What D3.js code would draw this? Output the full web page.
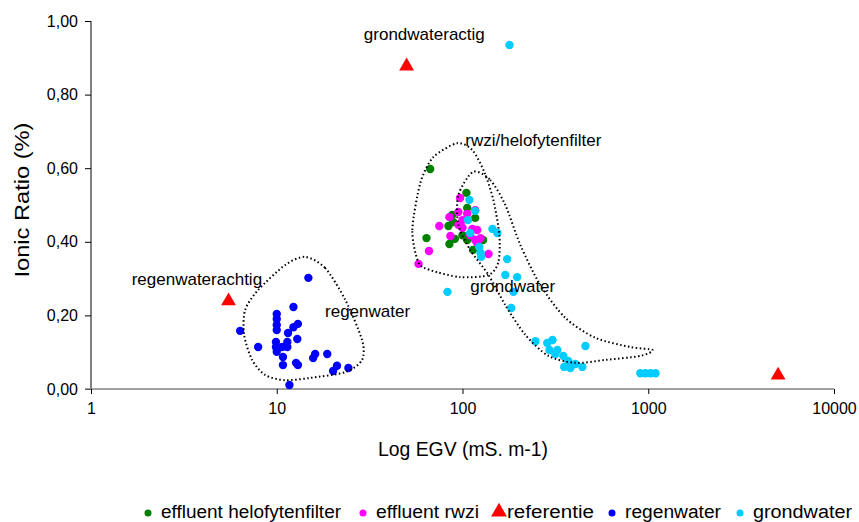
<!DOCTYPE html>
<html>
<head>
<meta charset="utf-8">
<script src="https://cdn.jsdelivr.net/npm/d3@7"></script>
<style>
  body { margin: 0; background: #fff; }
  svg text { font-family: "Liberation Sans", Arial, sans-serif; fill: #000; }
</style>
</head>
<body>
<svg id="chart" width="859" height="522" font-family="Liberation Sans, Arial, sans-serif"></svg>
<script>
// series values: [EGV, ionic ratio]
var helofytenfilter = [[67,0.598],[105,0.533],[106,0.492],[88,0.473],[117,0.465],[84,0.443],[89,0.454],
  [64,0.410],[85,0.394],[91,0.408],[106,0.405],[129,0.405],[114,0.378],[100,0.418]];
var rwzi = [[97,0.519],[117,0.486],[95,0.481],[85,0.467],[106,0.476],[100,0.459],[75,0.443],[95,0.446],
  [100,0.438],[113,0.435],[120,0.432],[86,0.416],[110,0.418],[117,0.405],[125,0.410],[120,0.397],
  [138,0.367],[66,0.375],[58,0.340]];
var referentie = [[5.5,0.242],[50,0.88],[5000,0.04]];
var regenwater = [[14.8,0.302],[12.3,0.223],[10,0.204],[10,0.190],[10,0.174],[10,0.160],[13,0.177],
  [12.3,0.168],[11.5,0.152],[12.9,0.136],[6.35,0.158],[7.94,0.114],[9.9,0.128],[9.9,0.114],[10,0.101],
  [10.7,0.114],[11.4,0.128],[11.4,0.114],[10.8,0.087],[10.8,0.065],[12.7,0.071],[13,0.065],[16.1,0.095],
  [15.7,0.084],[18.7,0.095],[21.1,0.063],[20.1,0.049],[24.3,0.057],[11.7,0.011]];
var grondwater = [[179,0.935],[109,0.514],[117,0.484],[107,0.459],[110,0.424],[145,0.435],[154,0.424],
  [123,0.386],[125,0.370],[126,0.359],[174,0.353],[170,0.310],[197,0.304],[188,0.264],[183,0.220],
  [83,0.264],[247,0.130],[286,0.125],[305,0.133],[294,0.106],[324,0.106],[316,0.095],[349,0.090],
  [371,0.076],[353,0.060],[381,0.057],[405,0.068],[442,0.060],[459,0.117],
  [907,0.043],[966,0.043],[1028,0.043],[1094,0.043]];

// dotted group outlines, in data units
var outlineRegen = [[14.2,0.359],[18.2,0.329],[23.4,0.242],[28.8,0.133],[28.8,0.079],[23.4,0.046],
  [15.1,0.030],[11.1,0.024],[8.66,0.038],[7.37,0.079],[6.67,0.147],[6.76,0.215],[7.94,0.269],[11.1,0.337]];
var outlineRwzi = [[57.8,0.345],[53.7,0.432],[59.3,0.560],[69.6,0.630],[93.7,0.668],[113,0.649],
  [131,0.590],[146.5,0.514],[158,0.418],[156,0.345],[138,0.310],[97.3,0.304],[67.1,0.323]];
var outlineGrond = [[114,0.590],[141,0.568],[170,0.500],[205,0.391],[262,0.283],[358,0.193],[520,0.139],
  [802,0.114],[1055,0.106],[908,0.090],[588,0.079],[405,0.071],[290,0.090],[218,0.147],[170,0.228],
  [138,0.310],[110,0.378],[95,0.446],[95,0.527]];

var annotations = [
  {text: "grondwateractig", x: 62.3, y: 0.948, anchor: "middle"},
  {text: "rwzi/helofytenfilter", x: 103.5, y: 0.660, anchor: "start"},
  {text: "regenwaterachtig", x: 8.34, y: 0.283, anchor: "end"},
  {text: "regenwater", x: 18.2, y: 0.196, anchor: "start"},
  {text: "grondwater", x: 110, y: 0.264, anchor: "start"}
];

var xTicks = [1, 10, 100, 1000, 10000];
var yTicks = [0, 0.2, 0.4, 0.6, 0.8, 1.0];

var series = [
  {name: "effluent helofytenfilter", data: helofytenfilter, color: "#008000", shape: "dot"},
  {name: "effluent rwzi", data: rwzi, color: "#FF00FF", shape: "dot"},
  {name: "referentie", data: referentie, color: "#FF0000", shape: "tri"},
  {name: "regenwater", data: regenwater, color: "#0000FF", shape: "dot"},
  {name: "grondwater", data: grondwater, color: "#00CCFF", shape: "dot"}
];

var svg = d3.select("#chart");
var x = d3.scaleLog().domain([1, 10000]).range([91, 834]);
var y = d3.scaleLinear().domain([0, 1]).range([389, 21]);

// y axis
var yAxis = svg.append("g").attr("transform", "translate(91,0)")
  .call(d3.axisLeft(y).tickValues(yTicks).tickSize(6).tickPadding(7)
    .tickFormat(d => d3.format(".2f")(d).replace(".", ",")));
yAxis.select(".domain").attr("d", "M0," + y(1) + "V" + y(0)).attr("stroke", "#000");
yAxis.selectAll("text").style("font-size", "16px");

// x axis
var xAxis = svg.append("g").attr("transform", "translate(0,389)")
  .call(d3.axisBottom(x).tickValues(xTicks).tickSize(5).tickPadding(9).tickFormat(d3.format("d")));
xAxis.select(".domain").attr("d", "M85,0H834").attr("stroke", "#808080").attr("stroke-width", 1.5);
xAxis.selectAll(".tick line").attr("stroke", "#000");
xAxis.selectAll("text").style("font-size", "16px");

svg.append("text").attr("x", 463).attr("y", 456).attr("text-anchor", "middle")
  .attr("textLength", 170).attr("lengthAdjust", "spacingAndGlyphs")
  .style("font-size", "20px").text("Log EGV (mS. m-1)");
svg.append("text").attr("transform", "translate(29,200) rotate(-90)").attr("text-anchor", "middle")
  .attr("textLength", 155).attr("lengthAdjust", "spacingAndGlyphs")
  .style("font-size", "20px").text("Ionic Ratio (%)");

var triangle = d3.symbol().type(d3.symbolTriangle).size(95);

series.forEach(function (s) {
  var g = svg.append("g");
  if (s.shape === "dot") {
    g.selectAll("circle").data(s.data).enter().append("circle")
      .attr("cx", d => x(d[0])).attr("cy", d => y(d[1])).attr("r", 4.2)
      .attr("fill", s.color);
  } else {
    g.selectAll("path").data(s.data).enter().append("path")
      .attr("d", triangle)
      .attr("transform", d => "translate(" + x(d[0]) + "," + (y(d[1]) + 1) + ")")
      .attr("fill", s.color);
  }
});

var outline = d3.line().x(d => x(d[0])).y(d => y(d[1])).curve(d3.curveCardinalClosed.tension(0.2));
[outlineRegen, outlineRwzi, outlineGrond].forEach(function (o) {
  svg.append("path").attr("d", outline(o)).attr("fill", "none").attr("stroke", "#000")
    .attr("stroke-width", 2).attr("stroke-dasharray", "1.5,2.5");
});

svg.selectAll("text.ann").data(annotations).enter().append("text").attr("class", "ann")
  .attr("x", d => x(d.x)).attr("y", d => y(d.y)).attr("text-anchor", d => d.anchor)
  .style("font-size", "17px").text(d => d.text);

// legend
var legendX = [148, 363, 499, 612, 740];
var legendW = [180, 103, 87, 96, 99];
var legend = svg.append("g").attr("transform", "translate(0,518)");
series.forEach(function (s, i) {
  var lg = legend.append("g").attr("transform", "translate(" + legendX[i] + ",0)");
  if (s.shape === "dot") {
    lg.append("circle").attr("cy", -5).attr("r", 3.5).attr("fill", s.color);
  } else {
    lg.append("path").attr("d", d3.symbol().type(d3.symbolTriangle).size(110)).attr("fill", s.color)
      .attr("transform", "translate(0,-6)");
  }
  lg.append("text").attr("x", s.shape === "dot" ? 13 : 8).attr("y", 0)
    .attr("textLength", legendW[i]).attr("lengthAdjust", "spacingAndGlyphs")
    .style("font-size", "18px").text(s.name);
});
</script>
</body>
</html>
